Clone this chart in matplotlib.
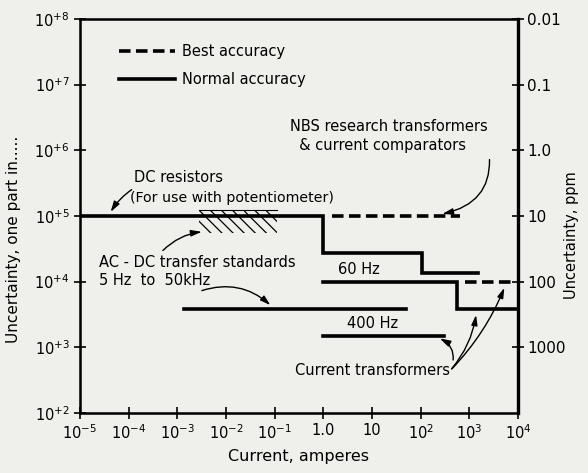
import numpy as np
import matplotlib
matplotlib.use("Agg")
import matplotlib.pyplot as plt
from matplotlib.lines import Line2D

# values (amperes, "one part in ...")
dc_step_x = [1e-5, 1.0, 1.0, 105, 105, 1500]
dc_step_y = [1e5, 1e5, 2.7e4, 2.7e4, 1.35e4, 1.35e4]
ct60_x = [1.0, 550, 550, 9000]
ct60_y = [1e4, 1e4, 3.8e3, 3.8e3]
ct400_x = [1.0, 300]
ct400_y = [1.5e3, 1.5e3]
acdc_x = [1.4e-3, 50]
acdc_y = [3.8e3, 3.8e3]
best_nbs_x = [1.5, 650]
best_nbs_y = [1e5, 1e5]
best_ct_x = [800, 8500]
best_ct_y = [1e4, 1e4]
hatch_x = [2.8e-3, 0.11]
hatch_lo = [5.4e4, 5.4e4]
hatch_hi = [1.25e5, 1.25e5]

x_ticks = [1e-5, 1e-4, 1e-3, 1e-2, 1e-1, 1, 10, 1e2, 1e3, 1e4]
x_labels = [r'$10^{-5}$', r'$10^{-4}$', r'$10^{-3}$', r'$10^{-2}$', r'$10^{-1}$',
            '1.0', '10', r'$10^{2}$', r'$10^{3}$', r'$10^{4}$']
y_ticks = [1e2, 1e3, 1e4, 1e5, 1e6, 1e7, 1e8]
y_labels = [r'$10^{+%d}$' % k for k in range(2, 9)]
ppm_ticks = [1e8, 1e7, 1e6, 1e5, 1e4, 1e3]
ppm_labels = ['0.01', '0.1', '1.0', '10', '100', '1000']

bg = '#efefeb'
plt.rcParams['font.family'] = ['DejaVu Sans']
plt.rcParams['hatch.linewidth'] = 0.9
fig = plt.figure(figsize=(5.88, 4.73), dpi=100, facecolor=bg)
ax = fig.add_axes([0.136, 0.127, 0.745, 0.833], facecolor=bg)

lw = 2.6
dash = (0, (3.2, 1.5))
ax.plot(dc_step_x, dc_step_y, color='k', lw=lw, solid_joinstyle='miter')
ax.plot(ct60_x, ct60_y, color='k', lw=lw, solid_joinstyle='miter')
ax.plot(ct400_x, ct400_y, color='k', lw=lw)
ax.plot(acdc_x, acdc_y, color='k', lw=lw)
ax.plot(best_nbs_x, best_nbs_y, color='k', lw=lw, linestyle=dash)
ax.plot(best_ct_x, best_ct_y, color='k', lw=lw, linestyle=dash)
ax.fill_between(hatch_x, hatch_lo, hatch_hi, facecolor='none', edgecolor='k',
                hatch='\\\\\\', linewidth=0)
ax.plot(hatch_x, hatch_hi, color='k', lw=0.8)

ax.set_xscale('log')
ax.set_yscale('log')
ax.set_xlim(1e-5, 1e4)
ax.set_ylim(1e2, 1e8)
ax.set_xticks(x_ticks)
ax.set_xticklabels(x_labels, fontsize=10.5)
ax.set_yticks(y_ticks)
ax.set_yticklabels(y_labels, fontsize=10.5)
ax.minorticks_off()
ax.tick_params(direction='inout', length=9, width=1.2, pad=3)
for s in ax.spines.values():
    s.set_linewidth(1.8)
ax.set_xlabel('Current, amperes', fontsize=11.5, labelpad=5)
ax.set_ylabel('Uncertainty, one part in.....', fontsize=11)
ax.yaxis.set_label_coords(-0.135, 0.44)

ax2 = ax.twinx()
ax2.set_yscale('log')
ax2.set_ylim(ax.get_ylim())
ax2.set_yticks(ppm_ticks)
ax2.set_yticklabels(ppm_labels, fontsize=11)
ax2.minorticks_off()
ax2.tick_params(direction='inout', length=9, width=1.2, pad=2)
ax2.spines['right'].set_linewidth(2.4)
ax2.set_ylabel('Uncertainty, ppm', fontsize=10.5, rotation=90)
ax2.yaxis.set_label_coords(1.105, 0.45)

handles = [Line2D([], [], color='k', lw=lw, linestyle=dash),
           Line2D([], [], color='k', lw=lw)]
ax.legend(handles, ['Best accuracy', 'Normal accuracy'], loc='upper left',
          bbox_to_anchor=(0.06, 0.97), frameon=False, fontsize=10.5,
          handlelength=3.8, handletextpad=0.5, labelspacing=0.9)

txt = dict(fontsize=10.5, color='k')
arrow = dict(arrowstyle='-|>,head_length=0.6,head_width=0.18', color='k', lw=1.0)

ax.annotate('DC resistors', xy=(10 ** -4.4, dc_step_y[0] * 1.06),
            xytext=(10 ** -3.9, 10 ** 5.58), ha='left', va='center',
            arrowprops=dict(arrow, connectionstyle='arc3,rad=0.3'), **txt)
ax.text(10 ** -3.98, 10 ** 5.27, '(For use with potentiometer)', ha='left',
        va='center', fontsize=10.2)

ax.annotate('NBS research transformers\n  & current comparators',
            xy=(245, best_nbs_y[0] * 1.05), xytext=(10 ** -0.69, 10 ** 6.22),
            ha='left', va='center', linespacing=1.3,
            arrowprops=dict(arrow, connectionstyle='arc3,rad=-0.5',
                            shrinkA=3, relpos=(1.0, 0.3)), **txt)

ax.annotate('AC - DC transfer standards\n5 Hz  to  50kHz', xy=(3.6e-3, 5.8e4),
            xytext=(10 ** -4.6, 10 ** 4.15), ha='left', va='center',
            linespacing=1.25,
            arrowprops=dict(arrow, connectionstyle='arc3,rad=-0.2',
                            relpos=(0.3, 1.0), shrinkA=2), **txt)
ax.annotate('', xy=(0.09, acdc_y[0] * 1.08), xytext=(10 ** -2.55, 10 ** 3.85),
            arrowprops=dict(arrow, connectionstyle='arc3,rad=-0.3'))

ax.text(2.0, 1.55e4, '60 Hz', ha='left', va='center', **txt)
ax.text(3.0, 2.3e3, '400 Hz', ha='left', va='center', **txt)

ct_xy = (10 ** 2.6, 10 ** 2.64)
ax.annotate('Current transformers', xy=(220, ct400_y[0] * 0.95), xytext=ct_xy,
            ha='right', va='center',
            arrowprops=dict(arrow, connectionstyle='arc3,rad=0.5',
                            relpos=(1.0, 0.5)), **txt)
ax.annotate('', xy=(1400, ct60_y[2] * 0.9), xytext=ct_xy,
            arrowprops=dict(arrow, connectionstyle='arc3,rad=0.15'))
ax.annotate('', xy=(5500, best_ct_y[0] * 0.88), xytext=ct_xy,
            arrowprops=dict(arrow, connectionstyle='arc3,rad=0.1'))

fig.savefig('out.png', dpi=100, facecolor=bg)
